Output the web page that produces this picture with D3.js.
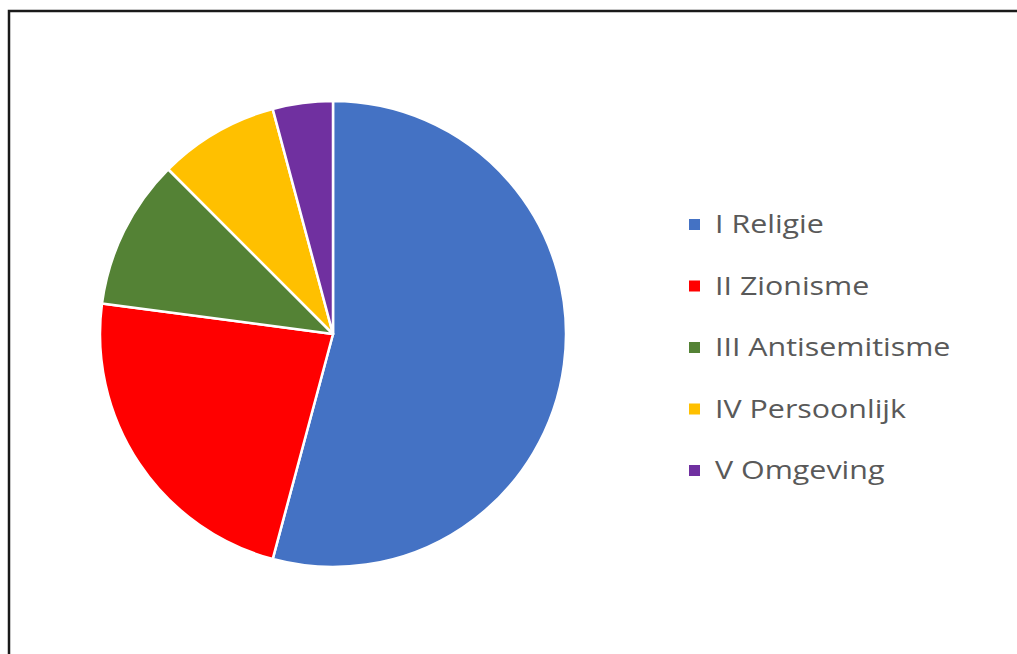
<!DOCTYPE html>
<html>
<head>
<meta charset="utf-8">
<script src="https://cdn.jsdelivr.net/npm/d3@7"></script>
<style>
  body { margin: 0; background: #fff; }
  svg { display: block; }
</style>
</head>
<body>
<svg id="chart"></svg>
<script>
var categories = ["I Religie", "II Zionisme", "III Antisemitisme", "IV Persoonlijk", "V Omgeving"];
var values = [52, 22, 10, 8, 4];
var colors = ["#4472c4", "#ff0000", "#548235", "#ffc000", "#7030a0"];

var width = 1017, height = 654;
var cx = 333, cy = 334, radius = 233;

var svg = d3.select("#chart")
  .attr("width", width)
  .attr("height", height);

// frame (runs off the right and bottom edges)
svg.append("rect")
  .attr("x", 9).attr("y", 11)
  .attr("width", width + 20).attr("height", height + 20)
  .attr("fill", "none")
  .attr("stroke", "#1a1a1a")
  .attr("stroke-width", 2.5);

var pie = d3.pie().sort(null)(values);
var arc = d3.arc().innerRadius(0).outerRadius(radius);

var g = svg.append("g").attr("transform", "translate(" + cx + "," + cy + ")");
g.selectAll("path")
  .data(pie)
  .enter().append("path")
  .attr("d", arc)
  .attr("fill", function (d, i) { return colors[i]; })
  .attr("stroke", "#fff")
  .attr("stroke-width", 2.5)
  .attr("stroke-linejoin", "round");

var y = d3.scalePoint().domain(categories).range([224, 470]);

var item = svg.append("g").selectAll("g")
  .data(categories)
  .enter().append("g")
  .attr("transform", function (d) { return "translate(689," + y(d) + ")"; });

item.append("rect")
  .attr("x", 0).attr("y", -5)
  .attr("width", 11).attr("height", 11)
  .attr("fill", function (d, i) { return colors[i]; });

item.append("text")
  .attr("transform", "translate(26,0) scale(1.17,1)")
  .attr("dy", "0.36em")
  .attr("font-family", "Open Sans, sans-serif")
  .attr("font-size", 26)
  .attr("fill", "#595959")
  .text(function (d) { return d; });
</script>
</body>
</html>
